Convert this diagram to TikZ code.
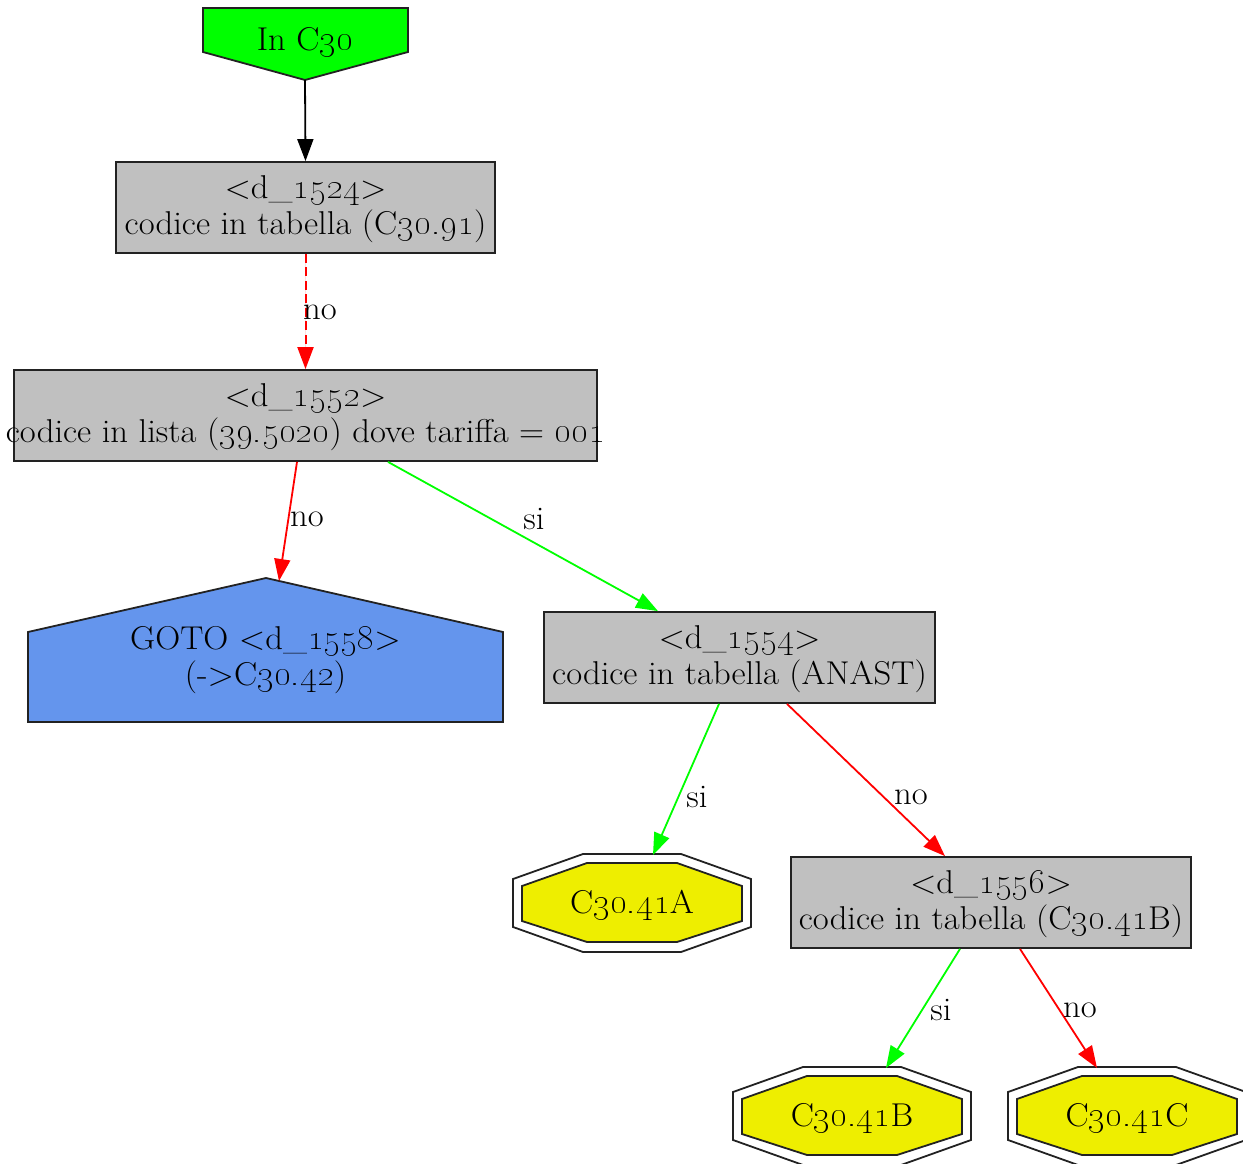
\documentclass[tikz,border=0pt]{standalone}
\usetikzlibrary{arrows.meta,calc}
\definecolor{boxgray}{HTML}{C0C0C0}
\definecolor{topgreen}{HTML}{00FF00}
\definecolor{gotoblue}{HTML}{6495ED}
\definecolor{octyellow}{HTML}{EEEE00}
\definecolor{edgegreen}{HTML}{00FF00}
\definecolor{edgered}{HTML}{FF0000}
\definecolor{border}{HTML}{222222}
\newcommand\osn[1]{\oldstylenums{#1}}
\begin{document}
\begin{tikzpicture}[x=1pt,y=-1pt,
  every node/.style={font=\fontsize{33}{36}\selectfont},
  box/.style={draw=border, fill=boxgray, line width=1.8pt, inner sep=0pt, minimum height=91pt},
  txt/.style={align=center, inner sep=0pt, xscale=1.05, yshift=-2pt},
  lbl/.style={inner sep=0pt, xscale=1.05},
  conn/.style={line width=1.8pt, -{Triangle[length=22pt,width=16pt]}},
  yes/.style={conn, draw=edgegreen, fill=edgegreen},
  nope/.style={conn, draw=edgered, fill=edgered},
  shapeline/.style={draw=border, line width=1.8pt},
  dblocta/.pic={
    \path[shapeline, fill=white] (-49,-49)--(49,-49)--(119,-24)--(119,24)--(49,49)--(-49,49)--(-119,24)--(-119,-24)--cycle;
    \path[shapeline, fill=octyellow] (-45,-40)--(45,-40)--(110,-17)--(110,18)--(45,39)--(-45,39)--(-110,18)--(-110,-17)--cycle;
  }
]
\useasboundingbox (0,0) rectangle (1243,1164);

% start node (inverted house)
\path[shapeline, fill=topgreen] (203,8)--(408,8)--(408,52)--(305,80)--(203,52)--cycle;
\node[txt] (inC) at (305,40) {In C\osn{30}};
\coordinate (inCtip) at (305,80);

% decision boxes
\node[box, minimum width=379pt] (n1524) at (305.5,207.5) {};
\node[txt] (t1524) at (n1524) {<d\_\osn{1524}>\\codice in tabella (C\osn{30.91})};

\node[box, minimum width=583pt] (n1552) at (305.5,415.5) {};
\node[txt] (t1552) at (n1552) {<d\_\osn{1552}>\\codice in lista (\osn{39.5020}) dove tariffa = \osn{001}};

\node[box, minimum width=391pt] (n1554) at (739.5,657.5) {};
\node[txt] (t1554) at (n1554) {<d\_\osn{1554}>\\codice in tabella (ANAST)};

\node[box, minimum width=400pt] (n1556) at (991,902.5) {};
\node[txt] (t1556) at (n1556) {<d\_\osn{1556}>\\codice in tabella (C\osn{30.41}B)};

% GOTO house
\path[shapeline, fill=gotoblue] (28,722)--(28,632)--(266,578)--(503,632)--(503,722)--cycle;
\node[txt] (goto) at (265.5,658) {GOTO <d\_\osn{1558}>\\(->C\osn{30.42})};
\coordinate (gototop) at (279,581);

% terminal double octagons
\pic at (632,903) {dblocta};
\node[txt] (c41a) at (632,903) {C\osn{30.41}A};
\coordinate (c41atop) at (653,855);

\pic at (852,1116) {dblocta};
\node[txt] (c41b) at (852,1116) {C\osn{30.41}B};
\coordinate (c41btop) at (886,1068);

\pic at (1127,1116) {dblocta};
\node[txt] (c41c) at (1127,1116) {C\osn{30.41}C};
\coordinate (c41ctop) at (1097,1068);

% connectors
\draw[conn, draw=black, fill=black] (inCtip) -- (n1524.north);
\draw[nope, line width=2pt, dash pattern=on 9pt off 4.5pt] (n1524.south) -- (n1552.north);
\node[lbl] (l1) at (320,312) {no};

\draw[nope] ($(n1552.south)+(-8.5,0)$) -- (gototop);
\node[lbl] (l2) at (307,519) {no};

\draw[yes] ($(n1552.south)+(82.5,0)$) -- ($(n1554.north)+(-81.5,0)$);
\node[lbl] (l3) at (534,519) {si};

\draw[yes] ($(n1554.south)+(-20.5,0)$) -- (c41atop);
\node[lbl] (l4) at (697,797) {si};

\draw[nope] ($(n1554.south)+(47.5,0)$) -- ($(n1556.north)+(-46,0)$);
\node[lbl] (l5) at (911,797) {no};

\draw[yes] ($(n1556.south)+(-31,0)$) -- (c41btop);
\node[lbl] (l6) at (941,1010) {si};

\draw[nope] ($(n1556.south)+(29,0)$) -- (c41ctop);
\node[lbl] (l7) at (1080,1010) {no};
\end{tikzpicture}
\end{document}
